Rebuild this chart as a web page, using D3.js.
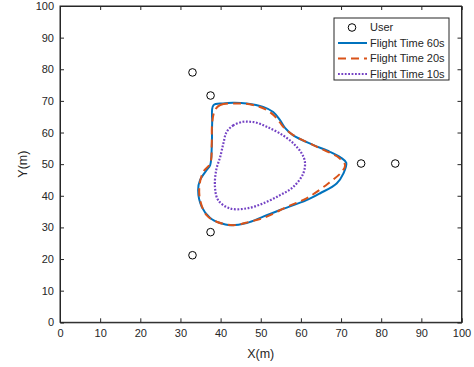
<!DOCTYPE html>
<html><head><meta charset="utf-8">
<script src="https://cdn.jsdelivr.net/npm/d3@7"></script>
<style>body{margin:0;background:#fff}svg{display:block}text{font-family:"Liberation Sans",Arial,sans-serif;fill:#262626}</style>
</head><body><svg id="c" width="474" height="367"></svg>
<script>
const xTicks=[0,10,20,30,40,50,60,70,80,90,100];
const yTicks=[0,10,20,30,40,50,60,70,80,90,100];
const userX=[33,37.5,75,83.5,37.5,33];
const userY=[79,71.7,50.2,50.2,28.5,21.2];
const t60X=[38.2,40.6,43.1,46.5,50.6,53.1,54.8,56.1,58.0,63.0,67.2,70.0,71.3,70.6,68.9,64.8,61.4,54.8,50.6,46.5,42.3,39.9,37.4,35.3,34.4,34.9,36.5,37.4,37.8,37.9];
const t60Y=[68.6,69.2,69.4,69.2,68.1,66.5,63.9,61.4,59.2,56.1,53.9,52.0,50.4,47.1,43.9,40.8,38.6,35.5,33.4,31.4,30.7,31.4,33.0,36.5,41.8,45.0,48.1,49.7,55.5,63.0];
const t20X=[38.6,39.9,44.0,48.1,51.5,54.0,55.6,58.1,63.1,67.2,69.6,71.0,70.2,66.8,61.4,56.5,51.5,47.3,43.2,39.0,36.5,35.0,34.7,35.7,37.4,37.8,37.9];
const t20Y=[67.1,68.7,69.2,68.7,67.1,64.5,61.8,59.2,56.0,53.6,51.9,49.7,47.6,43.9,39.2,36.5,33.4,31.8,30.7,31.8,33.9,38.1,42.8,47.6,50.2,56.6,63.0];
const t10X=[45.6,43.2,41.5,40.7,39.9,38.9,38.6,39.4,42.3,46.5,50.6,54.8,58.1,60.6,61.0,60.2,58.1,54.8,51.5,49.0,47.3];
const t10Y=[63.4,62.3,60.2,56.6,52.3,48.1,42.8,38.6,36.0,36.0,37.6,40.2,42.8,47.1,50.7,53.4,56.6,59.7,61.8,63.1,63.4];
const legendLabels=["User","Flight Time 60s","Flight Time 20s","Flight Time 10s"];

const svg=d3.select("#c");
const L=60,R=461.5,T=6,B=322.3;
const x=d3.scaleLinear().domain([0,100]).range([L,R]);
const y=d3.scaleLinear().domain([0,100]).range([B,T]);
const ax="#262626";
const purple="#7442C4";

svg.append("rect").attr("x",L).attr("y",T).attr("width",R-L).attr("height",B-T).attr("fill","#fff").attr("stroke",ax).attr("stroke-width",1);
const gx=svg.append("g").attr("transform",`translate(0,${B})`).call(d3.axisBottom(x).tickValues(xTicks).tickSize(-4).tickPadding(7).tickFormat(d3.format("d")));
const gy=svg.append("g").attr("transform",`translate(${L},0)`).call(d3.axisLeft(y).tickValues(yTicks).tickSize(-4).tickPadding(6).tickFormat(d3.format("d")));
const gx2=svg.append("g").attr("transform",`translate(0,${T})`).call(d3.axisTop(x).tickValues(xTicks).tickSize(-4).tickFormat(""));
const gy2=svg.append("g").attr("transform",`translate(${R},0)`).call(d3.axisRight(y).tickValues(yTicks).tickSize(-4).tickFormat(""));
[gx,gy,gx2,gy2].forEach(g=>{g.select(".domain").attr("stroke",ax);g.selectAll(".tick line").attr("stroke",ax);g.selectAll("text").style("font-size","11px").attr("fill",ax);});

const line=d3.line().x(d=>x(d[0])).y(d=>y(d[1])).curve(d3.curveCatmullRomClosed.alpha(0.5));
const z=(a,b)=>a.map((v,i)=>[v,b[i]]);
svg.append("path").attr("d",line(z(t60X,t60Y))).attr("fill","none").attr("stroke","#0072BD").attr("stroke-width",2);
svg.append("path").attr("d",line(z(t20X,t20Y))).attr("fill","none").attr("stroke","#D95319").attr("stroke-width",2).attr("stroke-dasharray","8,5");
svg.append("path").attr("d",line(z(t10X,t10Y))).attr("fill","none").attr("stroke",purple).attr("stroke-width",2.2).attr("stroke-dasharray","1.8,1.6");
svg.selectAll("circle.u").data(z(userX,userY)).join("circle").attr("class","u").attr("cx",d=>x(d[0])).attr("cy",d=>y(d[1])).attr("r",3.8).attr("fill","none").attr("stroke","#000").attr("stroke-width",1);

svg.append("text").attr("x",(L+R)/2).attr("y",358).attr("text-anchor","middle").style("font-size","12.5px").text("X(m)");
svg.append("text").attr("transform",`translate(27,${(T+B)/2}) rotate(-90)`).attr("text-anchor","middle").style("font-size","12.5px").text("Y(m)");

const lg=svg.append("g");
lg.append("rect").attr("x",334).attr("y",18).attr("width",115).attr("height",62).attr("fill","#fff").attr("stroke",ax).attr("stroke-width",1);
const ly=[27.5,43,58.5,74];
lg.append("circle").attr("cx",352).attr("cy",ly[0]).attr("r",3.8).attr("fill","none").attr("stroke","#000");
const sty=[["#0072BD",null,2],["#D95319","8,5",2],[purple,"1.8,1.6",2.2]];
sty.forEach((s,i)=>{lg.append("line").attr("x1",338).attr("x2",367).attr("y1",ly[i+1]).attr("y2",ly[i+1]).attr("stroke",s[0]).attr("stroke-width",s[2]).attr("stroke-dasharray",s[1]);});
legendLabels.forEach((t,i)=>lg.append("text").attr("x",370).attr("y",ly[i]).attr("dy","0.35em").style("font-size","11px").text(t));
</script></body></html>
